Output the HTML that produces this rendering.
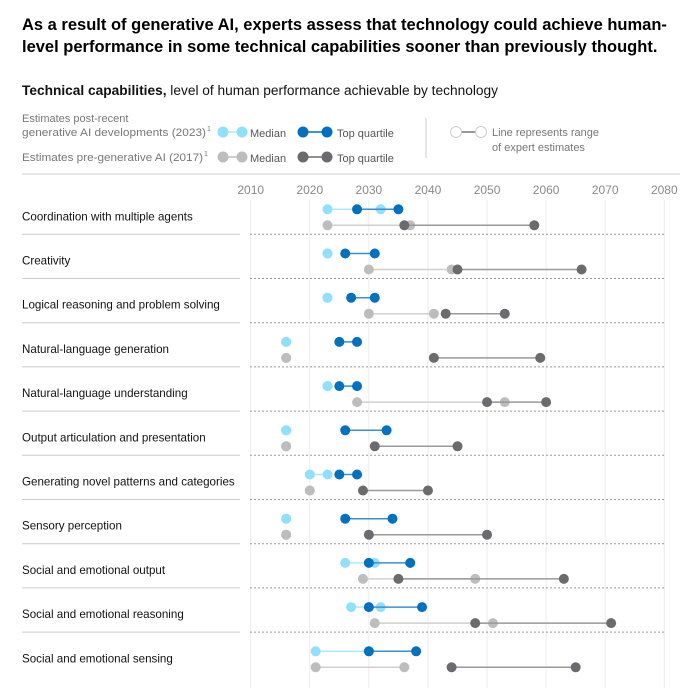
<!DOCTYPE html>
<html><head><meta charset="utf-8"><style>
body{margin:0;background:#fff;font-family:"Liberation Sans",sans-serif;}
#wrap{position:relative;width:700px;height:688px;overflow:hidden;}
</style></head><body>
<div id="wrap">
<svg id="svg" width="700" height="688" xmlns="http://www.w3.org/2000/svg" font-family="Liberation Sans, sans-serif">
<text x="22" y="30" font-size="16.5" font-weight="bold" fill="#000">As a result of generative AI, experts assess that technology could achieve human-</text>
<text x="22" y="52" font-size="16.5" font-weight="bold" fill="#000">level performance in some technical capabilities sooner than previously thought.</text>
<text x="22" y="95" font-size="13.5" fill="#111" textLength="476" lengthAdjust="spacingAndGlyphs"><tspan font-weight="bold">Technical capabilities,</tspan> level of human performance achievable by technology</text>
<g font-size="11" fill="#777">
<text x="22" y="122">Estimates post-recent</text>
<text x="22" y="136" textLength="184" lengthAdjust="spacingAndGlyphs">generative AI developments (2023)</text>
<text x="207" y="131" font-size="7">1</text>
<line x1="223" y1="132" x2="242" y2="132" stroke="#b0e8fb" stroke-width="1.5"/>
<circle cx="223" cy="132" r="5.5" fill="#8ee0fb"/><circle cx="242" cy="132" r="5.5" fill="#8ee0fb"/>
<text x="250" y="137" fill="#555">Median</text>
<line x1="303" y1="132" x2="327" y2="132" stroke="#0070c0" stroke-width="1.5"/>
<circle cx="303" cy="132" r="5.5" fill="#0070c0"/><circle cx="327" cy="132" r="5.5" fill="#0070c0"/>
<text x="337" y="137" fill="#555">Top quartile</text>
<text x="22" y="161" textLength="181" lengthAdjust="spacingAndGlyphs">Estimates pre-generative AI (2017)</text>
<text x="204" y="156" font-size="7">1</text>
<line x1="223" y1="157" x2="242" y2="157" stroke="#bdbdbd" stroke-width="1.5"/>
<circle cx="223" cy="157" r="5.5" fill="#bdbdbd"/><circle cx="242" cy="157" r="5.5" fill="#bdbdbd"/>
<text x="250" y="162" fill="#555">Median</text>
<line x1="303" y1="157" x2="327" y2="157" stroke="#6b6b6f" stroke-width="1.5"/>
<circle cx="303" cy="157" r="5.5" fill="#6b6b6f"/><circle cx="327" cy="157" r="5.5" fill="#6b6b6f"/>
<text x="337" y="162" fill="#555">Top quartile</text>
<line x1="426" y1="118" x2="426" y2="158" stroke="#ccc"/>
<line x1="456" y1="132" x2="481" y2="132" stroke="#777" stroke-width="1.5"/>
<circle cx="456" cy="132" r="5.5" fill="#fff" stroke="#ccc"/><circle cx="481" cy="132" r="5.5" fill="#fff" stroke="#ccc"/>
<text x="492" y="136">Line represents range</text>
<text x="492" y="151">of expert estimates</text>
</g>
<line x1="22" y1="174" x2="680" y2="174" stroke="#ccc"/>
<g id="plot"></g>
</svg>
</div>
<script>
const categories=["Coordination with multiple agents","Creativity","Logical reasoning and problem solving","Natural-language generation","Natural-language understanding","Output articulation and presentation","Generating novel patterns and categories","Sensory perception","Social and emotional output","Social and emotional reasoning","Social and emotional sensing"];
const postMedian=[[2023,2032],[2023,2023],[2023,2023],[2016,2016],[2023,2023],[2016,2016],[2020,2023],[2016,2016],[2026,2031],[2027,2032],[2021,2030]];
const postQuartile=[[2028,2035],[2026,2031],[2027,2031],[2025,2028],[2025,2028],[2026,2033],[2025,2028],[2026,2034],[2030,2037],[2030,2039],[2030,2038]];
const preMedian=[[2023,2037],[2030,2044],[2030,2041],[2016,2016],[2028,2053],[2016,2016],[2020,2020],[2016,2016],[2029,2048],[2031,2051],[2021,2036]];
const preQuartile=[[2036,2058],[2045,2066],[2043,2053],[2041,2059],[2050,2060],[2031,2045],[2029,2040],[2030,2050],[2035,2063],[2048,2071],[2044,2065]];
const ticks=[2010,2020,2030,2040,2050,2060,2070,2080];
const NS="http://www.w3.org/2000/svg";
const g=document.getElementById('plot');
const x=v=>250.7+(v-2010)*(664.3-250.7)/70;
const rowY=i=>209.3+i*44.2;
function mk(t,a){const e=document.createElementNS(NS,t);for(const k in a)e.setAttribute(k,a[k]);g.appendChild(e);return e;}
ticks.forEach(t=>{
 const gl=mk('line',{x1:x(t),x2:x(t),y1:200,y2:688,stroke:'#ececec'});
 
 
 const tx=mk('text',{x:x(t),y:194,'font-size':12,fill:'#888','text-anchor':'middle'});
 tx.textContent=t;
 
 
});
function series(vals,y,dot,line,name,i){
 const [a,b]=vals;
 const l=mk('line',{x1:x(a),x2:x(b),y1:y,y2:y,stroke:line,'stroke-width':1.5});
 
 
 [a,b].forEach(v=>{const c=mk('circle',{cx:x(v),cy:y,r:5,fill:dot});
 
 });
}
categories.forEach((c,i)=>{
 const y=rowY(i);
 const t=mk('text',{x:22,y:y+11,'font-size':11.6,fill:'#111'});
 t.textContent=c;
 
 
 if(i<categories.length-1){
  const sy=y+25;
  const s1=mk('line',{x1:22,x2:240,y1:sy,y2:sy,stroke:'#ccc'});
  
  
  const s2=mk('line',{x1:250,x2:664,y1:sy,y2:sy,stroke:'#999','stroke-dasharray':'2,2'});
  
  
 }
 series(preMedian[i],y+16,'#bdbdbd','#d0d0d0','pre-median',i);
 series(preQuartile[i],y+16,'#6b6b6f','#999','pre-quartile',i);
 series(postMedian[i],y,'#8ee0fb','#b0e8fb','post-median',i);
 series(postQuartile[i],y,'#0070c0','#3b8fd0','post-quartile',i);
});
</script>
</body></html>
